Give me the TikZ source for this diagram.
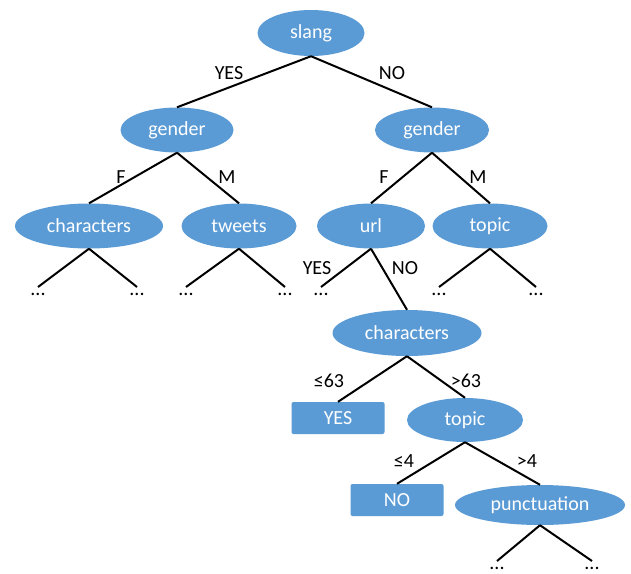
\documentclass[tikz,border=0pt]{standalone}
\usepackage{fontspec}
\setmainfont{Carlito}
\usetikzlibrary{shapes.geometric}
\definecolor{nodeblue}{RGB}{91,155,213}
\tikzset{
  x=1pt, y=-1pt,
  every node/.style={font=\fontsize{20}{23}\selectfont},
  ell/.style={ellipse, fill=nodeblue, text=white, inner sep=0pt},
  leafbox/.style={rectangle, rounded corners=2pt, fill=nodeblue, text=white, inner sep=0pt, minimum width=93pt, minimum height=32pt},
  edge/.style={line width=2pt, black},
  lab/.style={text=black, inner sep=0pt},
  dots/.style={text=black, inner sep=0pt, anchor=north, text height=8pt, text depth=0pt},
}
\begin{document}
\begin{tikzpicture}
\useasboundingbox (0,0) rectangle (631,573);
\fill[white] (0,0) rectangle (631,573);
% nodes
\node[ell, minimum width=107pt, minimum height=46pt] (slang) at (311,33) {slang};
\node[ell, minimum width=113pt, minimum height=45pt] (gL) at (177,130) {gender};
\node[ell, minimum width=114pt, minimum height=45pt] (gR) at (432,130) {gender};
\node[ell, minimum width=148pt, minimum height=45pt] (charL) at (89,226) {characters};
\node[ell, minimum width=115pt, minimum height=45pt] (tweets) at (239,226) {tweets};
\node[ell, minimum width=108pt, minimum height=45pt] (url) at (371,226) {url};
\node[ell, minimum width=115pt, minimum height=45pt] (topicA) at (490,226) {topic};
\node[ell, minimum width=149pt, minimum height=46pt] (charR) at (407,333) {characters};
\node[leafbox] (yes) at (338,418) {YES};
\node[ell, minimum width=116pt, minimum height=44pt] (topicB) at (465,420) {topic};
\node[leafbox] (no) at (397,500) {NO};
\node[ell, minimum width=170pt, minimum height=40pt] (punct) at (540,505) {punctuation};
% leaf dots
\node[dots] (d1) at (38,287) {...};
\node[dots] (d2) at (137,287) {...};
\node[dots] (d3) at (186,287) {...};
\node[dots] (d4) at (285,287) {...};
\node[dots] (d5) at (321,287) {...};
\node[dots] (d6) at (439,287) {...};
\node[dots] (d7) at (536,287) {...};
\node[dots] (d8) at (497,561) {...};
\node[dots] (d9) at (592,561) {...};
% edges
\draw[edge] (slang.south) -- (gL.north);
\draw[edge] (slang.south) -- (gR.north);
\draw[edge] (gL.south) -- (charL.north);
\draw[edge] (gL.south) -- (tweets.north);
\draw[edge] (gR.south) -- (url.north);
\draw[edge] (gR.south) -- (topicA.north);
\draw[edge] (charL.south) -- (d1.north);
\draw[edge] (charL.south) -- (d2.north);
\draw[edge] (tweets.south) -- (d3.north);
\draw[edge] (tweets.south) -- (d4.north);
\draw[edge] (url.south) -- (d5.north);
\draw[edge] (url.south) -- (charR.north);
\draw[edge] (topicA.south) -- (d6.north);
\draw[edge] (topicA.south) -- (d7.north);
\draw[edge] (charR.south) -- (yes.north);
\draw[edge] (charR.south) -- (topicB.north);
\draw[edge] (topicB.south) -- (no.north);
\draw[edge] (topicB.south) -- (punct.north);
\draw[edge] (punct.south) -- (d8.north);
\draw[edge] (punct.south) -- (d9.north);
% labels
\node[lab] (l1) at (229,73) {YES};
\node[lab] (l2) at (392,73) {NO};
\node[lab] (l3) at (121,177) {F};
\node[lab] (l4) at (227,177) {M};
\node[lab] (l5) at (384,177) {F};
\node[lab] (l6) at (478,177) {M};
\node[lab] (l7) at (317,268) {YES};
\node[lab] (l8) at (405,268) {NO};
\node[lab] (l9) at (329,381) {≤63};
\node[lab] (l10) at (466,381) {>63};
\node[lab] (l11) at (404,461) {≤4};
\node[lab] (l12) at (527,461) {>4};
\end{tikzpicture}
\end{document}
